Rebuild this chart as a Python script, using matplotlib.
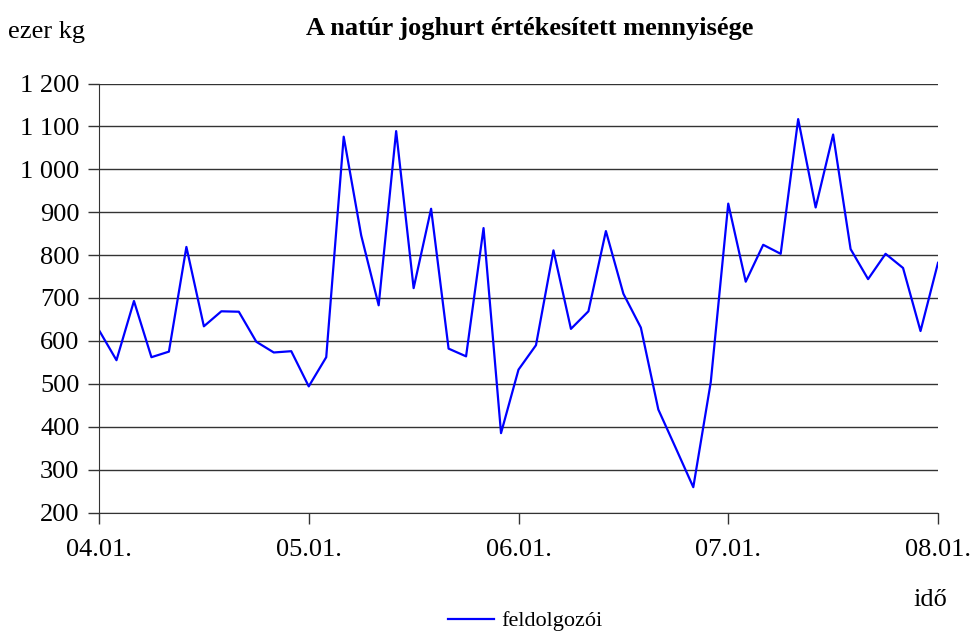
import numpy as np
import matplotlib
matplotlib.use("Agg")
from matplotlib import pyplot as plt

# havi adatok, 2004.01 - 2008.01 (ezer kg)
ertek_2004 = [625, 555, 693, 562, 575, 819, 634, 669, 668, 598, 573, 576]
ertek_2005 = [494, 562, 1076, 846, 683, 1089, 723, 908, 582, 564, 863, 385]
ertek_2006 = [533, 590, 811, 628, 669, 856, 710, 631, 440, 350, 259, 504]
ertek_2007 = [920, 738, 824, 803, 1117, 911, 1081, 814, 744, 803, 770, 623]
ertek_2008 = [782]
ertekek = ertek_2004 + ertek_2005 + ertek_2006 + ertek_2007 + ertek_2008

x_tick_labels = ['04.01.', '05.01.', '06.01.', '07.01.', '08.01.']
y_ticks = [200, 300, 400, 500, 600, 700, 800, 900, 1000, 1100, 1200]

plt.rcParams['font.family'] = ['Liberation Serif', 'DejaVu Serif']

fig = plt.figure(figsize=(9.72, 6.32), dpi=100)
ax = fig.add_axes([99/972, 1 - 512.5/632, (938 - 99)/972, (512.5 - 83.5)/632])

x = np.arange(len(ertekek))
ax.plot(x, ertekek, color='#0000ff', lw=1.6, label='feldolgozói')

ax.set_xlim(0, len(ertekek) - 1)
ax.set_ylim(200, 1200)
ax.set_yticks(y_ticks)
ax.set_yticklabels([f'{v:,}'.replace(',', ' ') for v in y_ticks], fontsize=19)
ax.set_xticks(np.arange(0, len(ertekek), 12))
ax.set_xticklabels(x_tick_labels, fontsize=19)

ax.grid(axis='y', color='#333333', lw=1)
ax.set_axisbelow(True)
for s in ['top', 'right']:
    ax.spines[s].set_visible(False)
for s in ['left', 'bottom']:
    ax.spines[s].set_color('#333333')
ax.tick_params(axis='y', length=8, width=1, color='#333333', pad=6)
ax.tick_params(axis='x', length=8, width=1, color='#333333', pad=11)

fig.text(530/972, 1 - 28/632, 'A natúr joghurt értékesített mennyisége',
         ha='center', va='center', fontsize=19, fontweight='bold')
fig.text(8/972, 1 - 32/632, 'ezer kg', ha='left', va='center', fontsize=19)
fig.text(930/972, 1 - 600/632, 'idő', ha='center', va='center', fontsize=19)

fig.legend(loc='center', bbox_to_anchor=(525/972, 1 - 621/632), frameon=False,
           fontsize=16, handlelength=2.1, handletextpad=0.3)

fig.savefig('out.png', dpi=100)
